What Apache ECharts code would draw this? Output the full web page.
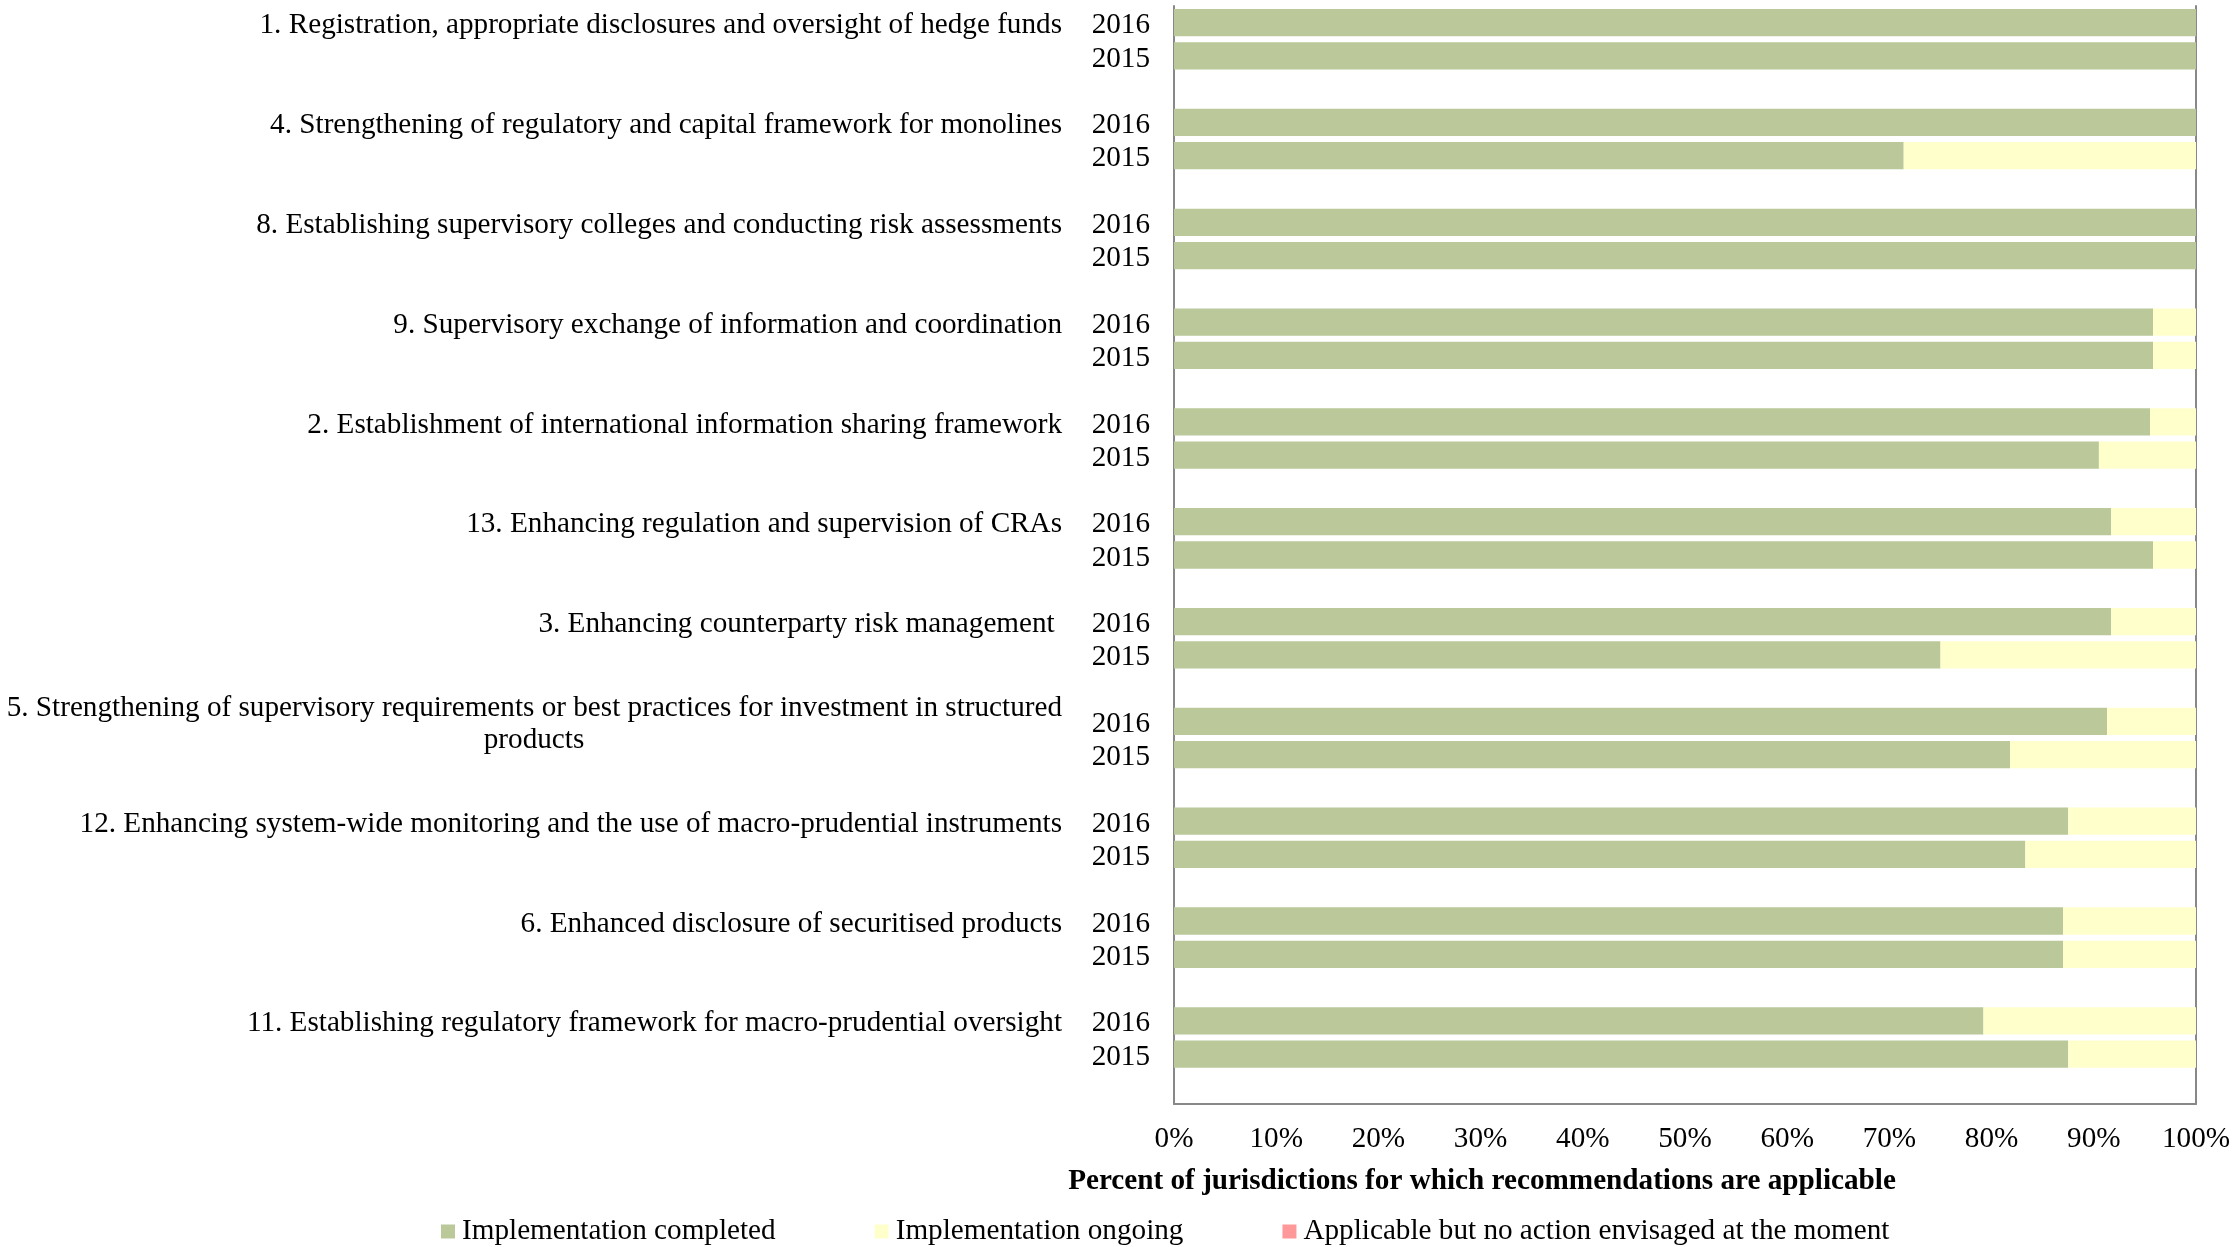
<!DOCTYPE html>
<html>
<head>
<meta charset="utf-8">
<script src="https://cdn.jsdelivr.net/npm/echarts@6/dist/echarts.min.js"></script>
<style>
  html, body { margin: 0; padding: 0; background: #fff; }
  #chart { width: 2239px; height: 1247px; }
</style>
</head>
<body>
<div id="chart"></div>
<script>
// ---- Data ----
const recommendations = [
  "1. Registration, appropriate disclosures and oversight of hedge funds",
  "4. Strengthening of regulatory and capital framework for monolines",
  "8. Establishing supervisory colleges and conducting risk assessments",
  "9. Supervisory exchange of information and coordination",
  "2. Establishment of international information sharing framework",
  "13. Enhancing regulation and supervision of CRAs",
  "3. Enhancing counterparty risk management ",
  "5. Strengthening of supervisory requirements or best practices for investment in structured\nproducts",
  "12. Enhancing system-wide monitoring and the use of macro-prudential instruments",
  "6. Enhanced disclosure of securitised products",
  "11. Establishing regulatory framework for macro-prudential oversight"
];
const years = ["2016", "2015"];

const completed2016 = [100, 100, 100, 95.8, 95.5, 91.7, 91.7, 91.3, 87.5, 87.0, 79.2];
const completed2015 = [100, 71.4, 100, 95.8, 90.5, 95.8, 75.0, 81.8, 83.3, 87.0, 87.5];
const ongoing2016   = [0, 0, 0, 4.2, 4.5, 8.3, 8.3, 8.7, 12.5, 13.0, 20.8];
const ongoing2015   = [0, 28.6, 0, 4.2, 9.5, 4.2, 25.0, 18.2, 16.7, 13.0, 12.5];
const noAction2016  = [0, 0, 0, 0, 0, 0, 0, 0, 0, 0, 0];
const noAction2015  = [0, 0, 0, 0, 0, 0, 0, 0, 0, 0, 0];

const xTickLabels = ["0%", "10%", "20%", "30%", "40%", "50%", "60%", "70%", "80%", "90%", "100%"];
const seriesNames = ["Implementation completed", "Implementation ongoing", "Applicable but no action envisaged at the moment"];
const axisTitle = "Percent of jurisdictions for which recommendations are applicable";

// ---- Build the slot layout: 2016, 2015, blank per recommendation ----
const yearSlots = [], nameSlots = [];
const slotCompleted = [], slotOngoing = [], slotNoAction = [];
recommendations.forEach((name, i) => {
  yearSlots.push(years[0], years[1], "");
  nameSlots.push(name, "", "");
  slotCompleted.push(completed2016[i], completed2015[i], "-");
  slotOngoing.push(ongoing2016[i], ongoing2015[i], "-");
  slotNoAction.push(noAction2016[i], noAction2015[i], "-");
});

const FONT = "'Liberation Serif', 'Times New Roman', serif";
const FS = 29.2;
const LFS = 29.2;

const cv = document.createElement('canvas').getContext('2d');
cv.font = FS + "px " + FONT;
const wrapWidth = Math.ceil(cv.measureText(recommendations[7].split('\n')[0]).width);

const chart = echarts.init(document.getElementById('chart'), null, { renderer: 'canvas' });

const option = {
  animation: false,
  backgroundColor: '#ffffff',
  textStyle: { fontFamily: FONT, color: '#000' },
  title: {
    text: axisTitle,
    left: 1477,
    top: 1162,
    textAlign: 'center',
    textStyle: { fontFamily: FONT, fontSize: FS, fontWeight: 'bold', color: '#000' }
  },
  legend: {
    left: 436,
    top: 1212,
    itemWidth: 14,
    itemHeight: 14,
    itemGap: 99,
    icon: 'rect',
    data: seriesNames,
    textStyle: { fontFamily: FONT, fontSize: LFS, color: '#000', padding: [0, 0, 0, 2] }
  },
  grid: { left: 1174, right: 43, top: 6, bottom: 143, containLabel: false },
  xAxis: {
    type: 'value',
    min: 0, max: 100, interval: 10,
    axisLine: { show: true, lineStyle: { color: '#888', width: 2 } },
    axisTick: { show: false },
    splitLine: { show: false },
    axisLabel: {
      margin: 21,
      fontFamily: FONT, fontSize: FS, color: '#000',
      formatter: (v) => xTickLabels[Math.round(v / 10)]
    }
  },
  yAxis: [
    {
      type: 'category',
      inverse: true,
      data: yearSlots,
      position: 'left',
      axisLine: { show: true, onZero: false, lineStyle: { color: '#888', width: 2 } },
      axisTick: { show: false },
      axisLabel: {
        interval: 0, margin: 24, color: '#000',
        formatter: (v) => v ? '{y|' + v + '}' : '',
        rich: { y: { fontFamily: FONT, fontSize: FS, color: '#000', padding: [6, 0, 0, 0] } }
      }
    },
    {
      type: 'category',
      inverse: true,
      data: nameSlots,
      position: 'left',
      axisLine: { show: false },
      axisTick: { show: false },
      axisLabel: {
        interval: 0, margin: 112, fontFamily: FONT, fontSize: FS, color: '#000', padding: [6, 0, 0, 0],
        formatter: (v) => {
          if (v.indexOf('\n') < 0) return v;
          const parts = v.split('\n');
          return '{a|' + parts[0] + '}\n{b|' + parts[1] + '}';
        },
        rich: {
          a: { fontFamily: FONT, fontSize: FS, color: '#000', lineHeight: 32 },
          b: { fontFamily: FONT, fontSize: FS, color: '#000', lineHeight: 32, align: 'center', width: wrapWidth }
        }
      }
    },
    {
      type: 'category',
      inverse: true,
      data: yearSlots,
      position: 'right',
      axisLine: { show: true, onZero: false, lineStyle: { color: '#888', width: 2 } },
      axisTick: { show: false },
      axisLabel: { show: false }
    }
  ],
  series: [
    {
      name: seriesNames[0], type: 'bar', stack: 'total', yAxisIndex: 0,
      barCategoryGap: '18%',
      itemStyle: { color: '#BAC89A' },
      data: slotCompleted
    },
    {
      name: seriesNames[1], type: 'bar', stack: 'total', yAxisIndex: 0,
      barCategoryGap: '18%',
      itemStyle: { color: '#FFFFCC' },
      data: slotOngoing
    },
    {
      name: seriesNames[2], type: 'bar', stack: 'total', yAxisIndex: 0,
      barCategoryGap: '18%',
      itemStyle: { color: '#FF9999' },
      data: slotNoAction
    }
  ]
};
chart.setOption(option);
</script>
</body>
</html>
